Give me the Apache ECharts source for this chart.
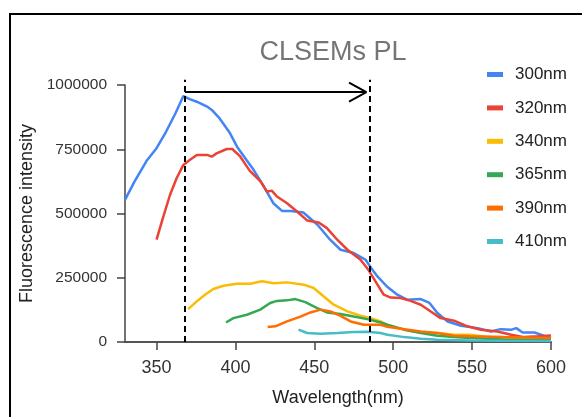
<!DOCTYPE html>
<html>
<head>
<meta charset="utf-8">
<script src="https://cdn.jsdelivr.net/npm/echarts@6/dist/echarts.min.js"></script>
<style>
  html, body { margin: 0; padding: 0; background: #fff; }
  #chart { width: 582px; height: 417px; }
</style>
</head>
<body>
<div id="chart"></div>
<script>
// Emission spectra [wavelength nm, intensity]
const ex300 = [[330,553000],[336,624000],[343.7,705000],[350,754000],[356,818000],[362,890000],[367,957000],[371,945000],[375.5,935000],[382,916000],[385,903000],[390,870000],[396.6,812000],[401,760000],[407,708000],[411.5,670000],[418,605000],[424,540000],[429.5,510000],[435,510000],[443,504000],[452,456000],[460,398000],[466.6,359000],[475,346000],[482.5,320000],[486,288000],[490,255000],[496,216000],[502.6,184000],[509,164000],[517.5,167000],[523,152000],[528,113000],[534.5,80000],[543,63000],[553.5,54000],[562,41000],[568,50000],[575,48000],[578,54000],[582,37000],[589.5,37000],[598,19000],[600,16000]];
const ex320 = [[350,398000],[354,482000],[358.5,572000],[362.7,637000],[367,689000],[371,708000],[375.5,728000],[382,728000],[385,721000],[388,734000],[394.5,751000],[398,751000],[403,722000],[409,667000],[416,624000],[420,585000],[423,589000],[426.3,566000],[432.7,540000],[439,508000],[445.4,473000],[452.8,465000],[458,443000],[464.5,398000],[471,359000],[479.3,320000],[484.6,278000],[490,223000],[494,184000],[498.4,173000],[504.7,171000],[511,160000],[517.5,145000],[523.8,119000],[530,93000],[538.6,83000],[547,61000],[555.6,48000],[566,41000],[574.7,28000],[583,19000],[591.8,22000],[600,25000]];
const ex340 = [[370,128000],[375.5,158000],[380.7,184000],[386,206000],[392.4,219000],[401,227000],[409.4,227000],[416.8,236000],[424.2,229000],[432.7,232000],[443.3,223000],[449.6,210000],[456,177000],[462.3,145000],[471,119000],[479.3,102000],[485.7,93000],[492,80000],[496.3,66000],[507,48000],[517.5,37000],[528,35000],[538.6,28000],[549,28000],[560,19000],[570.5,16000],[581,16000],[600,12000]];
const ex365 = [[394,76000],[398.7,93000],[407.3,106000],[415.7,126000],[422,152000],[426.3,160000],[432.7,162000],[438,167000],[444.3,155000],[451.8,132000],[458,115000],[466.6,109000],[475,99000],[483.5,89000],[492,76000],[496.3,67000],[507,48000],[517.5,35000],[528,24000],[538.6,19000],[549,16000],[570,10000],[600,8000]];
const ex390 = [[420.4,58000],[425.3,61000],[432.7,80000],[441.2,99000],[447.5,115000],[454,126000],[460.2,119000],[466.6,102000],[473,80000],[481.4,67000],[492,67000],[496.3,59000],[507,50000],[517.5,41000],[528,35000],[538.6,24000],[549,22000],[570,19000],[600,16000]];
const ex410 = [[440,48000],[445.4,35000],[454,32000],[464.5,35000],[475,39000],[483.5,40000],[492,35000],[496.3,28000],[507,19000],[517.5,13000],[528,9000],[549,6000],[570,5000],[600,4000]];

const seriesNames = ['300nm', '320nm', '340nm', '365nm', '390nm', '410nm'];
const seriesData = [ex300, ex320, ex340, ex365, ex390, ex410];
const colors = ['#4285F4', '#EA4335', '#FBBC04', '#34A853', '#FF6D01', '#46BDC6'];
const xTicks = [350, 400, 450, 500, 550, 600];

// Annotation: range markers and arrow (data coords)
const rangeStart = 368;
const rangeEnd = 485;
const dashTop = 1020000;
const arrowY = 972600;
const arrowTip = 483;
const arrowBack = 472;
const arrowSpread = 37000;

const FONT = 'Liberation Sans, Arial, sans-serif';
const gridMain = { left: 125, right: 31, top: 85, bottom: 75 };
const gridAnnot = { left: 125, right: 31, top: 75, bottom: 75 };
const plotH = 417 - gridMain.top - gridMain.bottom;
const annotMax = 1000000 * (417 - gridAnnot.top - gridAnnot.bottom) / plotH;

const chart = echarts.init(document.getElementById('chart'));

const lines = seriesData.map((d, i) => ({
  name: seriesNames[i],
  type: 'line',
  data: d,
  symbol: 'none',
  lineStyle: { color: colors[i], width: 2.5 },
  itemStyle: { color: colors[i] }
}));

const blackDash = { color: '#000', width: 2, type: [6, 4] };
const blackSolid = { color: '#000', width: 2, type: 'solid' };

lines.push({
  type: 'line',
  xAxisIndex: 1,
  yAxisIndex: 1,
  data: [],
  silent: true,
  markLine: {
    silent: true,
    symbol: 'none',
    animation: false,
    label: { show: false },
    data: [
      [{ coord: [rangeStart, 0], lineStyle: blackDash }, { coord: [rangeStart, dashTop] }],
      [{ coord: [rangeEnd, 0], lineStyle: blackDash }, { coord: [rangeEnd, dashTop] }],
      [{ coord: [rangeStart, arrowY], lineStyle: blackSolid }, { coord: [arrowTip, arrowY] }],
      [{ coord: [arrowTip, arrowY], lineStyle: blackSolid }, { coord: [arrowBack, arrowY + arrowSpread] }],
      [{ coord: [arrowTip, arrowY], lineStyle: blackSolid }, { coord: [arrowBack, arrowY - arrowSpread] }]
    ]
  }
});

chart.setOption({
  animation: false,
  textStyle: { fontFamily: FONT },
  title: {
    text: 'CLSEMs PL',
    left: 328,
    top: 34,
    textAlign: 'center',
    textStyle: { fontFamily: FONT, fontSize: 27, fontWeight: 'normal', color: '#757575' }
  },
  legend: {
    orient: 'vertical',
    left: 482,
    top: 61,
    itemWidth: 16,
    itemHeight: 5,
    itemGap: 16.4,
    icon: 'rect',
    data: seriesNames,
    textStyle: { fontFamily: FONT, fontSize: 17, color: '#222', padding: [0, 0, 0, 7] }
  },
  graphic: [{
    type: 'rect',
    silent: true,
    shape: { x: 10, y: 14, width: 700, height: 500 },
    style: { fill: 'none', stroke: '#000', lineWidth: 2 }
  }],
  grid: [gridMain, gridAnnot],
  xAxis: [
    {
      type: 'value',
      min: 330,
      max: 600,
      name: 'Wavelength(nm)',
      nameLocation: 'middle',
      nameGap: 47,
      nameTextStyle: { fontFamily: FONT, fontSize: 18, color: '#222' },
      axisLine: { lineStyle: { color: '#555', width: 2 } },
      axisTick: { show: true, length: 8, lineStyle: { color: '#444', width: 1.5 }, customValues: xTicks },
      axisLabel: { fontFamily: FONT, fontSize: 18, color: '#333', margin: 17, customValues: xTicks },
      splitLine: { show: false }
    },
    { type: 'value', gridIndex: 1, min: 330, max: 600, show: false }
  ],
  yAxis: [
    {
      type: 'value',
      min: 0,
      max: 1000000,
      interval: 250000,
      name: 'Fluorescence intensity',
      nameLocation: 'middle',
      nameGap: 76,
      nameTextStyle: { fontFamily: FONT, fontSize: 18, color: '#222' },
      axisLine: { show: true, lineStyle: { color: '#444', width: 1.5 } },
      axisTick: { show: true, length: 8, lineStyle: { color: '#444', width: 1.5 } },
      axisLabel: { fontFamily: FONT, fontSize: 15.5, color: '#333', margin: 18, formatter: v => String(v) },
      splitLine: { show: false }
    },
    { type: 'value', gridIndex: 1, min: 0, max: annotMax, show: false }
  ],
  series: lines
});
</script>
</body>
</html>
